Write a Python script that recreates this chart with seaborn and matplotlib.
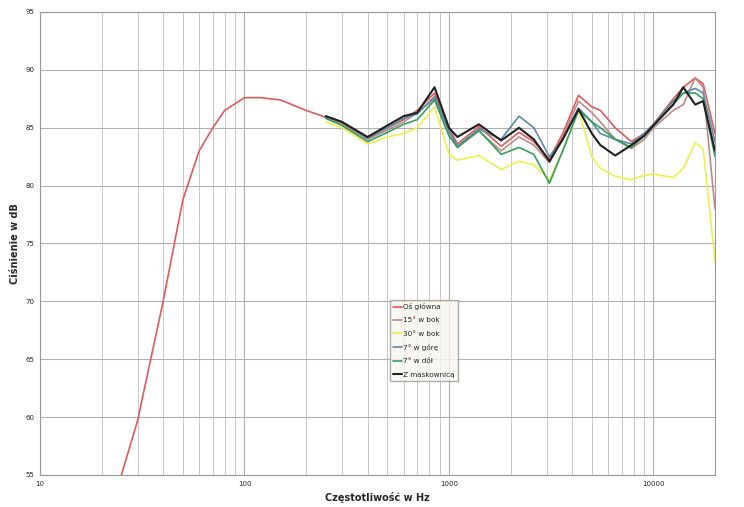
import matplotlib
matplotlib.use("Agg")
import matplotlib.pyplot as plt
import seaborn as sns
import pandas as pd
from matplotlib.ticker import FixedLocator, NullFormatter, FixedFormatter

sns.set_style("white")

low_freq = [25, 30, 40, 50, 60, 70, 80, 100, 120, 150, 200, 250]
low_main = [55, 59.7, 70, 78.8, 83, 85, 86.5, 87.6, 87.6, 87.4, 86.5, 85.9]

freq = [250, 300, 400, 500, 600, 700, 850, 1000, 1100, 1400, 1800, 2200, 2600, 3100, 3600,
        4300, 5000, 5500, 6500, 7800, 9000, 10000, 12500, 14000, 16000, 17500, 20000]
main = [85.9, 85.3, 84.2, 85.0, 85.7, 86.5, 88.0, 85.0, 83.6, 85.1, 83.4, 84.6, 83.8, 82.3, 84.5,
        87.8, 86.8, 86.5, 85.0, 83.8, 84.5, 85.3, 87.5, 88.5, 89.3, 88.8, 84.5]
side15 = [85.9, 85.3, 84.0, 84.8, 85.5, 86.3, 87.5, 84.5, 83.3, 84.7, 83.0, 84.2, 83.5, 82.0, 84.2,
          87.3, 86.3, 85.5, 84.0, 83.2, 84.0, 85.0, 86.5, 87.0, 89.3, 88.5, 78.0]
side30 = [85.5, 85.0, 83.6, 84.2, 84.5, 85.0, 86.8, 82.7, 82.2, 82.6, 81.4, 82.1, 81.8, 80.5, 83.0,
          86.5, 82.5, 81.5, 80.8, 80.5, 80.9, 81.0, 80.7, 81.5, 83.7, 83.2, 73.5]
up7 = [86.0, 85.5, 84.1, 85.0, 85.8, 86.2, 87.7, 84.8, 83.4, 84.9, 84.0, 86.0, 85.0, 82.5, 84.0,
       86.7, 85.5, 84.5, 84.0, 83.6, 84.5, 85.3, 87.3, 88.0, 88.4, 88.0, 83.8]
down7 = [85.8, 85.2, 83.8, 84.6, 85.3, 85.7, 87.4, 84.3, 83.3, 84.8, 82.7, 83.3, 82.7, 80.2, 83.0,
         86.5, 85.5, 85.0, 84.0, 83.3, 84.3, 85.2, 87.0, 88.0, 88.0, 87.5, 82.5]
grille = [86.0, 85.5, 84.2, 85.2, 86.0, 86.3, 88.5, 85.0, 84.2, 85.3, 83.9, 85.0, 84.0, 82.1, 84.0,
          86.6, 84.5, 83.5, 82.6, 83.5, 84.3, 85.2, 87.0, 88.5, 87.0, 87.3, 83.0]

names = ["Oś główna", "15° w bok", "30° w bok", "7° w górę", "7° w dół", "Z maskownicą"]
colors = ["#e05a5a", "#c08888", "#eeee50", "#5a8aa8", "#30a060", "#202020"]

rows = []
for f, v in zip(low_freq, low_main):
    rows.append((f, v, names[0]))
for series, name in zip([main, side15, side30, up7, down7, grille], names):
    for f, v in zip(freq, series):
        if name == names[0] and f == 250:
            continue
        rows.append((f, v, name))
df = pd.DataFrame(rows, columns=["f", "db", "s"])

fig = plt.figure(figsize=(7.44, 5.07), dpi=100)
ax = fig.add_axes([40/744, 1-475/507, 675/744, 463/507])
for name, c in zip(names, colors):
    sub = df[df.s == name]
    lw = 1.5 if name == names[-1] else 1.2
    sns.lineplot(data=sub, x="f", y="db", ax=ax, color=c, lw=lw, label=name, sort=False)

ax.set_xscale("log")
ax.set_xlim(10, 20000)
ax.set_ylim(55, 95)
ax.set_yticks(range(55, 96, 5))
ax.xaxis.set_major_locator(FixedLocator([10, 100, 1000, 10000]))
ax.xaxis.set_major_formatter(FixedFormatter(["10", "100", "1000", "10000"]))
ax.xaxis.set_minor_formatter(NullFormatter())
ax.grid(True, which="major", color="#b0b0b0", lw=0.8)
ax.grid(True, which="minor", axis="x", color="#c8c8c8", lw=0.7)
ax.tick_params(labelsize=5, length=0, pad=4)
for s in ax.spines.values():
    s.set_color("#999999"); s.set_linewidth(0.8)
ax.set_xlabel("Częstotliwość w Hz", fontsize=7, fontweight="bold", labelpad=4)
ax.set_ylabel("Ciśnienie w dB", fontsize=7, fontweight="bold", labelpad=4)
leg = ax.legend(loc="upper left", bbox_to_anchor=((386-40)/675, (475-296)/463), fontsize=5.2,
                frameon=True, fancybox=False, handlelength=1.2, handletextpad=0.2,
                labelspacing=1.0, borderpad=0.5)
leg.get_frame().set_edgecolor("#999999")
leg.get_frame().set_facecolor("#f7f6ee")
fig.savefig("out.png", dpi=100)
